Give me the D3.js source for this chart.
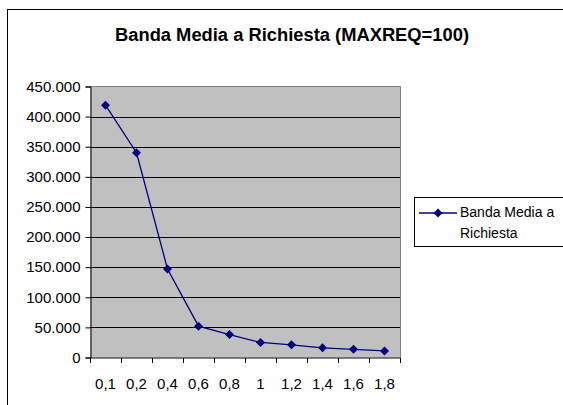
<!DOCTYPE html>
<html><head><meta charset="utf-8">
<script src="https://cdn.jsdelivr.net/npm/d3@7"></script>
<style>body{margin:0;background:#fff}svg{display:block}text{font-family:Arial,"Liberation Sans",sans-serif}</style>
</head><body>
<script>
const categories = ["0,1","0,2","0,4","0,6","0,8","1","1,2","1,4","1,6","1,8"];
const values = [419000, 340000, 147000, 52000, 38000, 25000, 21000, 16000, 13500, 11000];
const yTicks = [0,50000,100000,150000,200000,250000,300000,350000,400000,450000];
const seriesName = ["Banda Media a", "Richiesta"];
const title = "Banda Media a Richiesta (MAXREQ=100)";

const W = 563, H = 405;
const svg = d3.select("body").append("svg").attr("width", W).attr("height", H);
svg.append("rect").attr("x",7.5).attr("y",9.5).attr("width",620).attr("height",500)
  .attr("fill","#fff").attr("stroke","#000");

const pL = 90, pR = 400, pT = 86.5, pB = 357.5;
const x = d3.scaleBand().domain(categories).range([pL, pR]);
const y = d3.scaleLinear().domain([0, 450000]).range([pB, pT]);

svg.append("rect").attr("x",pL).attr("y",pT).attr("width",pR-pL).attr("height",pB-pT)
  .attr("fill","#c0c0c0");
svg.append("g").selectAll("line").data(yTicks.slice(1,-1)).join("line")
  .attr("x1",pL).attr("x2",pR).attr("y1",d=>Math.round(y(d))+0.5).attr("y2",d=>Math.round(y(d))+0.5)
  .attr("stroke","#000").attr("stroke-width",1);
svg.append("path").attr("d",`M${pL},${pT}H${pR+0.5}V${pB}`).attr("fill","none").attr("stroke","#808080");

const loc = d3.formatLocale({decimal:",", thousands:".", grouping:[3], currency:["",""]});
const fmt = loc.format(",.0f");
const yAxis = d3.axisLeft(y).tickValues(yTicks).tickFormat(fmt).tickSize(5).tickPadding(5);
const gy = svg.append("g").attr("transform",`translate(${pL+0.5},0)`).call(yAxis);
gy.select(".domain").attr("stroke","#000");
gy.selectAll(".tick line").attr("stroke","#000");
gy.selectAll("text").attr("font-size","15px").attr("fill","#000").attr("font-family","Arial, 'Liberation Sans', sans-serif");

const gx = svg.append("g").attr("transform",`translate(0,${pB+0.5})`);
gx.append("line").attr("x1",pL).attr("x2",pR+0.5).attr("stroke","#000");
const bounds = categories.map(c=>x(c)).concat([pR]);
gx.selectAll("line.t").data(bounds).join("line").attr("class","t")
  .attr("x1",d=>Math.round(d)+0.5).attr("x2",d=>Math.round(d)+0.5).attr("y1",0).attr("y2",5).attr("stroke","#000");
gx.selectAll("text").data(categories).join("text")
  .attr("x",d=>x(d)+x.bandwidth()/2).attr("y",31).attr("text-anchor","middle")
  .attr("font-size","15px").text(d=>d);

const cx = d => x(d)+x.bandwidth()/2;
const line = d3.line().x((d,i)=>cx(categories[i])).y(d=>y(d));
svg.append("path").datum(values).attr("d",line).attr("fill","none").attr("stroke","#000080").attr("stroke-width",1.3);
const dia = (px,py,r)=>`M${px},${py-r}L${px+r},${py}L${px},${py+r}L${px-r},${py}Z`;
svg.append("g").selectAll("path").data(values).join("path")
  .attr("d",(d,i)=>dia(cx(categories[i]), y(d), 4.5)).attr("fill","#000080");

svg.append("text").attr("x",292).attr("y",41).attr("text-anchor","middle")
  .attr("font-size","18px").attr("font-weight","bold")
  .attr("textLength",354).attr("lengthAdjust","spacingAndGlyphs").text(title);

const lg = svg.append("g");
lg.append("rect").attr("x",414.5).attr("y",197.5).attr("width",170).attr("height",49).attr("fill","#fff").attr("stroke","#000");
lg.append("line").attr("x1",419).attr("x2",457).attr("y1",213).attr("y2",213).attr("stroke","#000080").attr("stroke-width",1.3);
lg.append("path").attr("d",dia(438,213,4.5)).attr("fill","#000080");
lg.selectAll("text").data(seriesName).join("text").attr("x",460).attr("y",(d,i)=>217+i*21)
  .attr("font-size","14px").text(d=>d);
</script>
</body></html>
